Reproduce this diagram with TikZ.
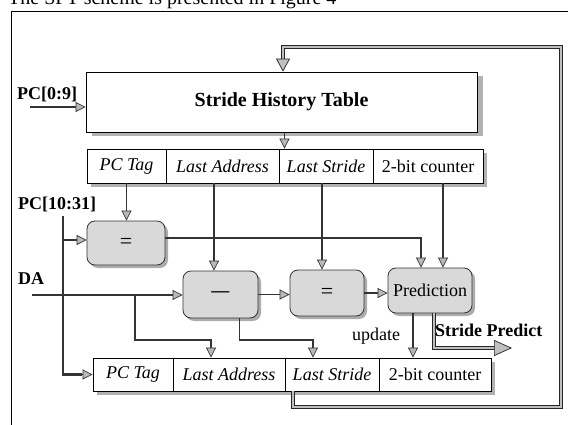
\documentclass[tikz,border=0pt]{standalone}
\usepackage{fontspec}
\setmainfont{Liberation Serif}
\usetikzlibrary{arrows.meta,shadows,backgrounds}
\begin{document}
\begin{tikzpicture}[x=1pt,y=-1pt,
  fs/.style={font=\fontsize{18}{20}\selectfont},
  fsi/.style={font=\fontsize{18}{20}\selectfont\itshape},
  lab/.style={font=\fontsize{18}{20}\selectfont\bfseries, inner sep=0pt},
  cell/.style={draw=black, line width=0.8pt, fill=white, inner sep=0pt},
  opbox/.style={draw=black!80, line width=0.8pt, fill=gray!30, rounded corners=8pt, inner sep=0pt, fs,
    drop shadow={shadow xshift=3pt,shadow yshift=-3pt,fill=gray!65,opacity=1}},
  conn/.style={draw=black!80, line width=1.5pt},
  arr/.style={conn, -{Triangle[length=10pt,width=10pt,fill=gray!55,line width=0.7pt]}},
  busline/.style={draw=black!80, line width=2.4pt},
  fat/.style={draw=black!85, line width=0.7pt, double=gray!50, double distance=2.8pt},
  fattip/.style={draw=black!85, line width=0.7pt},
  shade/.style={fill=gray!60}
]
\useasboundingbox (0,0) rectangle (568,425);

% cut-off caption at the top
\begin{scope}
\clip (0,0) rectangle (568,425);
\node[anchor=base west, inner sep=0pt, font=\fontsize{20}{22}\selectfont] (cap) at (8,5) {The SPT scheme is presented in Figure 4};
\end{scope}

% frame
\draw[line width=1pt] (11,425) -- (11,12) -- (568,12);

% Stride history table
\node[cell, minimum width=391pt, minimum height=60pt, font=\fontsize{20}{22}\selectfont\bfseries] (sht) at (281.5,102) {Stride History Table};

% top row
\node[cell, fsi, minimum width=79pt, minimum height=34pt] (r1c1) at (126.5,166) {PC Tag};
\node[cell, fsi, minimum width=113pt, minimum height=34pt] (r1c2) at (222.5,166) {Last Address};
\node[cell, fsi, minimum width=94pt, minimum height=34pt] (r1c3) at (326,166) {Last Stride};
\node[cell, fs, minimum width=110pt, minimum height=34pt] (r1c4) at (428,166) {2-bit counter};

% bottom row
\node[cell, fsi, minimum width=80pt, minimum height=33pt] (r2c1) at (133,374.5) {PC Tag};
\node[cell, fsi, minimum width=112pt, minimum height=33pt] (r2c2) at (229,374.5) {Last Address};
\node[cell, fsi, minimum width=94pt, minimum height=33pt] (r2c3) at (332,374.5) {Last Stride};
\node[cell, fs, minimum width=112pt, minimum height=33pt] (r2c4) at (435,374.5) {2-bit counter};

% shadows of table and rows
\begin{scope}[on background layer]
\fill[shade] ([shift={(6pt,-4pt)}]sht.north west) rectangle ([shift={(6pt,-4pt)}]sht.south east);
\fill[shade] ([shift={(4pt,-4pt)}]r1c1.north west) rectangle ([shift={(4pt,-4pt)}]r1c4.south east);
\fill[shade] ([shift={(4pt,-4pt)}]r2c1.north west) rectangle ([shift={(4pt,-4pt)}]r2c4.south east);
\end{scope}

% operator boxes
\node[opbox, minimum width=78pt, minimum height=44pt, font=\fontsize{22}{24}\selectfont] (b1) at (126,243) {=};
\node[opbox, minimum width=75pt, minimum height=47pt] (b2) at (220.5,294.5) {\textbf{—}};
\node[opbox, minimum width=74pt, minimum height=46pt, font=\fontsize{22}{24}\selectfont] (b3) at (327,293) {=};
\node[opbox, minimum width=84pt, minimum height=45pt] (pred) at (430,290.5) {Prediction};

% labels
\node[lab, anchor=base west] (pc09) at (17,100) {PC[0:9]};
\node[lab, anchor=base west] (pc1031) at (18,210) {PC[10:31]};
\node[lab, anchor=base west] (da) at (18,284) {DA};
\node[fs, anchor=base west, inner sep=0pt] (upd) at (352,340) {update};
\node[lab, anchor=base west] (sp) at (435,336) {Stride Predict};

% connectors
\coordinate (pcin) at (30,107);
\draw[arr] (pcin) -- (pcin -| sht.west);
\draw[arr] ([xshift=3pt]sht.south) -- ([xshift=3pt]sht.south |- r1c3.north);

\draw[arr] (r1c1.south) -- (r1c1.south |- b1.north);
\draw[arr] ([xshift=-8.5pt]r1c2.south) -- ([xshift=-8.5pt]r1c2.south |- b2.north);
\draw[arr] ([xshift=-4pt]r1c3.south) -- ([xshift=-4pt]r1c3.south |- b3.north);
\draw[arr] ([xshift=15pt]r1c4.south) -- ([xshift=15pt]r1c4.south |- pred.north);
\draw[arr] ([yshift=5pt]b1.east) -| ([xshift=-9pt]pred.north);

% PC[10:31] bus
\coordinate (bustop) at (63,216);
\draw[busline] (bustop) |- ([xshift=-11pt]r2c1.west);
\draw[arr] ([xshift=-12pt]r2c1.west) -- (r2c1.west);
\draw[arr] ([yshift=3pt]b1.west -| bustop) -- ([yshift=3pt]b1.west);

% DA
\coordinate (dain) at (32,295);
\draw[arr] (dain) -- (dain -| b2.west);
\coordinate (dabr) at (135,295);
\coordinate (jn) at (135,340);
\draw[arr] (dabr) -- (jn) -| ([xshift=-18pt]r2c2.north);
\draw[arr] ([xshift=19pt]b2.south) -- ([xshift=19pt]b2.south |- jn) -| ([xshift=-19pt]r2c3.north);

\draw[arr] (b2.east) -- (b2.east -| b3.west);
\draw[arr] (b3.east) -- (b3.east -| pred.west);
\draw[arr] ([xshift=-17pt]pred.south) -- ([xshift=-17pt]pred.south |- r2c4.north);

% Stride Predict output
\coordinate (sptip) at (512,348);
\draw[fat] ([xshift=4pt]pred.south) |- ([xshift=-16pt]sptip);
\draw[fattip, -{Triangle[length=18pt,width=16pt,fill=gray!50]}] ([xshift=-18pt]sptip) -- (sptip);

% feedback loop
\coordinate (lbr) at (561,407);
\coordinate (ltr) at (561,47);
\coordinate (lpend) at ([xshift=1.5pt,yshift=13pt]sht.north);
\draw[fat] ([xshift=-39pt]r2c3.south) |- (lbr) -- (ltr) -| (lpend);
\draw[fattip, -{Triangle[length=13pt,width=14pt,fill=gray!50]}] (lpend) -- ([xshift=1.5pt]sht.north);
\end{tikzpicture}
\end{document}
